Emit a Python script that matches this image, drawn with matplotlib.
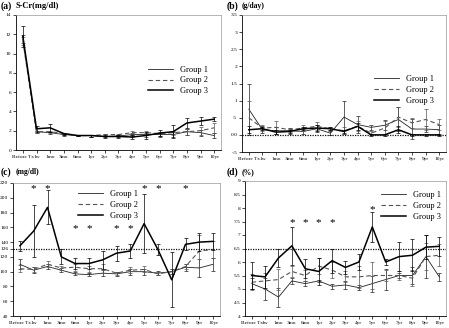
import matplotlib
matplotlib.use("Agg")
import matplotlib.pyplot as plt
import numpy as np

plt.rcParams['font.family'] = ['Liberation Serif', 'DejaVu Serif']

categories = ["Before Tx", "1w", "1mo", "3mo", "6mo", "1yr", "2yr", "3yr", "4yr",
              "5yr", "6yr", "7yr", "8yr", "9yr", "10yr"]

# (a) S-Cr (mg/dl)
a_g1 = [11.5, 1.9, 1.8, 1.6, 1.5, 1.5, 1.4, 1.45, 1.6, 1.6, 1.6, 1.6, 1.9, 1.8, 1.5]
a_g2 = [11.3, 1.9, 1.9, 1.7, 1.5, 1.5, 1.6, 1.6, 1.8, 1.8, 1.7, 1.8, 1.9, 2.0, 2.3]
a_g3 = [11.8, 2.2, 2.3, 1.7, 1.5, 1.5, 1.4, 1.4, 1.35, 1.5, 1.75, 1.9, 2.8, 3.0, 3.2]
a_e1 = [0.4, 0.1, 0.1, 0.1, 0.05, 0.1, 0.1, 0.1, 0.2, 0.2, 0.2, 0.3, 0.3, 0.3, 0.3]
a_e2 = [0.4, 0.1, 0.1, 0.1, 0.05, 0.1, 0.1, 0.1, 0.2, 0.2, 0.2, 0.2, 0.3, 0.4, 0.5]
a_e3 = [1.1, 0.3, 0.4, 0.1, 0.05, 0.1, 0.2, 0.2, 0.2, 0.35, 0.3, 0.7, 0.5, 0.4, 0.2]

# (b) proteinuria (g/day)
b_g1 = [0.75, 0.15, 0.12, 0.12, 0.1, 0.18, 0.05, 0.52, 0.3, 0.22, 0.28, 0.45, 0.17, 0.17, 0.15]
b_g2 = [0.5, 0.2, 0.22, 0.15, 0.2, 0.25, 0.18, 0.12, 0.25, 0.05, 0.2, 0.52, 0.35, 0.45, 0.3]
b_g3 = [0.15, 0.18, 0.08, 0.1, 0.18, 0.2, 0.18, 0.1, 0.25, 0.0, 0.0, 0.15, 0.0, 0.0, 0.0]
b_e1 = [0.75, 0.1, 0.1, 0.08, 0.08, 0.1, 0.05, 0.48, 0.25, 0.08, 0.15, 0.35, 0.3, 0.1, 0.15]
b_e2 = [0.5, 0.08, 0.18, 0.06, 0.1, 0.12, 0.05, 0.1, 0.15, 0.05, 0.2, 0.3, 0.15, 0.3, 0.15]
b_e3 = [0.1, 0.05, 0.05, 0.05, 0.05, 0.08, 0.05, 0.05, 0.1, 0.02, 0.02, 0.1, 0.02, 0.02, 0.02]

# (c) (mg/dl)
c_g1 = [110, 102, 107, 102, 97, 96, 98, 97, 100, 100, 98, 100, 106, 105, 110]
c_g2 = [104, 103, 110, 105, 106, 104, 104, 98, 102, 103, 97, 100, 107, 128, 130]
c_g3 = [135, 155, 187, 120, 111, 111, 116, 125, 128, 165, 130, 89, 137, 140, 141]
c_e1 = [7, 4, 4, 3, 2, 2, 4, 3, 4, 4, 3, 3, 5, 12, 9]
c_e2 = [5, 3, 4, 3, 5, 4, 6, 2, 4, 4, 2, 3, 4, 22, 12]
c_e3 = [7, 35, 23, 10, 8, 8, 12, 10, 10, 40, 8, 37, 8, 12, 12]
c_star_c = ["1w", "1mo", "6mo", "1yr", "3yr", "4yr", "5yr", "6yr", "8yr"]
c_star_y = [213, 213, 158, 158, 158, 158, 213, 213, 213]
c_ref = 131
c_ref_label = "126"

# (d) (%)
d_g1 = [5.2, 5.0, 4.7, 5.3, 5.2, 5.3, 5.1, 5.15, 5.05, 5.2, 5.35, 5.5, 5.5, 6.2, 5.45]
d_g2 = [5.25, 5.3, 5.35, 5.65, 5.5, 5.85, 5.7, 5.45, 5.45, 5.5, 5.5, 5.5, 5.4, 6.2, 6.25]
d_g3 = [5.5, 5.45, 6.15, 6.6, 5.75, 5.65, 6.05, 5.8, 6.0, 7.3, 6.0, 6.2, 6.25, 6.55, 6.58]
d_e1 = [0.2, 0.4, 0.35, 0.1, 0.1, 0.05, 0.1, 0.15, 0.1, 0.3, 0.4, 0.1, 0.3, 0.8, 0.15]
d_e2 = [0.3, 0.3, 0.4, 0.2, 0.2, 0.3, 0.3, 0.2, 0.4, 0.5, 0.2, 0.15, 0.3, 0.5, 0.4]
d_e3 = [0.5, 0.4, 0.35, 0.7, 0.35, 0.5, 0.45, 0.25, 0.3, 0.55, 0.1, 0.55, 0.6, 0.45, 0.35]
d_star_c = ["3mo", "6mo", "1yr", "2yr", "5yr"]
d_star_y = [7.45, 7.45, 7.45, 7.45, 7.95]
d_ref = 6.5

fig = plt.figure(figsize=(4.49, 3.28), dpi=100)
W, H = 449, 328

def mkax(l, t, r, b):
    return fig.add_axes([l / W, 1 - b / H, (r - l) / W, (b - t) / H])

x = np.arange(len(categories))
styles = [dict(color='#222222', lw=0.6, ls='-'),
          dict(color='#555555', lw=0.8, ls=(0, (4, 2.5))),
          dict(color='#000000', lw=1.1, ls='-')]

def draw(ax, series, errs, ylim, yticks, yticklabels, tag, unit, tag_xy,
         legend_loc, ref=None, unit_size=5.5):
    handles = []
    for s, e, st, name in zip(series, errs, styles, ["Group 1", "Group 2", "Group 3"]):
        h, = ax.plot(x, s, **st, label=name)
        ax.errorbar(x, s, yerr=e, fmt='none', ecolor=st['color'], elinewidth=0.5,
                    capsize=1.5, capthick=0.5)
        handles.append(h)
    if ref is not None:
        ax.axhline(ref, color='#111111', lw=0.9, ls=(0, (1, 1)))
    ax.set_xlim(-0.5, len(categories) - 0.5)
    ax.set_ylim(*ylim)
    ax.set_yticks(yticks)
    ax.set_yticklabels(yticklabels)
    ax.set_xticks(x)
    ax.set_xticklabels(categories)
    ax.tick_params(axis='both', labelsize=3.9, length=2, width=0.5, pad=1.5)
    for sp in ['top', 'right']:
        ax.spines[sp].set_color('#999999')
        ax.spines[sp].set_linewidth(0.5)
    for sp in ['left', 'bottom']:
        ax.spines[sp].set_linewidth(0.6)
    tx, ty = tag_xy
    fig.text(tx / W, 1 - ty / H, tag, fontsize=7, fontweight='bold',
             ha='left', va='center')
    fig.text((tx + 15) / W, 1 - ty / H, unit, fontsize=unit_size, fontweight='bold',
             ha='left', va='center')
    ax.legend(handles=handles, loc=legend_loc, frameon=False, fontsize=6,
              handlelength=3, labelspacing=0.35, borderaxespad=0.3)
    return ax

ax_a = mkax(16, 15, 221, 150)
draw(ax_a, [a_g1, a_g2, a_g3], [a_e1, a_e2, a_e3], (0, 14), range(0, 15, 2),
     [str(v) for v in range(0, 15, 2)], "(a)", "S-Cr(mg/dl)", (1, 6),
     (0.63, 0.38), unit_size=6)

ax_b = mkax(242, 15, 446, 152)
bt = [-0.5, 0, 0.5, 1, 1.5, 2, 2.5, 3, 3.5]
draw(ax_b, [b_g1, b_g2, b_g3], [b_e1, b_e2, b_e3], (-0.5, 3.5), bt,
     ["-.5", "0.0", ".5", "1", "1.5", "2", "2.5", "3", "3.5"], "(b)", "(g/day)",
     (227, 6), (0.63, 0.32), ref=0)

ax_c = mkax(13, 183, 220, 316)
ct = list(range(40, 221, 20)) + [c_ref]
draw(ax_c, [c_g1, c_g2, c_g3], [c_e1, c_e2, c_e3], (40, 220), ct,
     [str(v) for v in range(40, 221, 20)] + [c_ref_label], "(c)", "(mg/dl)",
     (1, 172), (0.30, 0.70), ref=c_ref)
for c, yv in zip(c_star_c, c_star_y):
    ax_c.text(categories.index(c), yv, "*", ha='center', va='center', fontsize=8)

ax_d = mkax(245, 181, 446, 316)
dt = [4, 4.5, 5, 5.5, 6, 6.5, 7, 7.5, 8, 8.5, 9]
draw(ax_d, [d_g1, d_g2, d_g3], [d_e1, d_e2, d_e3], (4, 9), dt,
     ["4", "4.5", "5", "5.5", "6", "6.5", "7", "7.5", "8", "8.5", "9"], "(d)", "(%)",
     (227, 172), (0.66, 0.68), ref=d_ref)
for c, yv in zip(d_star_c, d_star_y):
    ax_d.text(categories.index(c), yv, "*", ha='center', va='center', fontsize=8)

fig.savefig("out.png", dpi=100)
